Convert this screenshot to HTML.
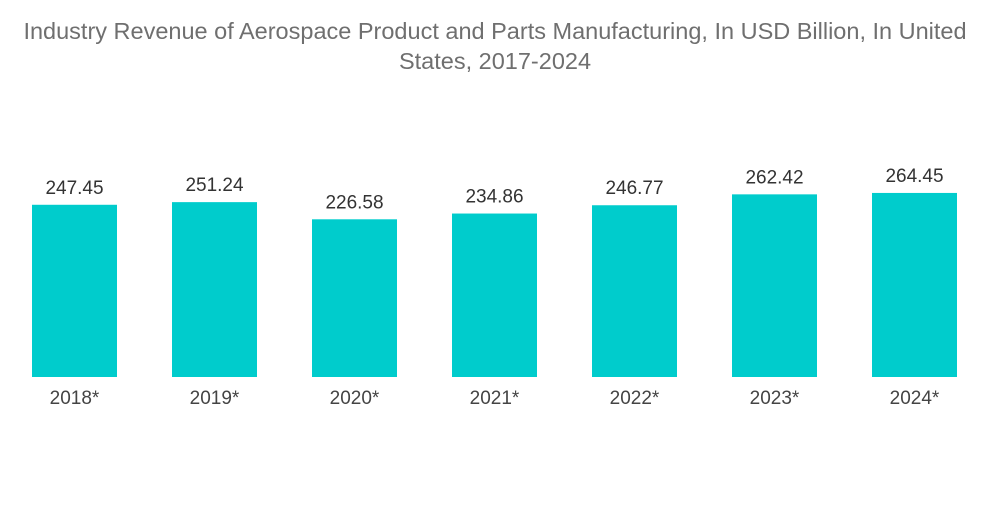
<!DOCTYPE html>
<html><head><meta charset="utf-8"><style>
html,body{margin:0;padding:0;background:#fff;}
body{width:1000px;height:504px;overflow:hidden;font-family:"Liberation Sans",sans-serif;}
</style></head><body>
<svg width="1000" height="504">
<text x="495" y="39" text-anchor="middle" font-size="23.5" fill="#6f6f6f">Industry Revenue of Aerospace Product and Parts Manufacturing, In USD Billion, In United</text>
<text x="495" y="69" text-anchor="middle" font-size="23.5" fill="#6f6f6f">States, 2017-2024</text>
<g id="bars"></g>
</svg>
<script>
const categories=["2018*","2019*","2020*","2021*","2022*","2023*","2024*"];
const values=[247.45,251.24,226.58,234.86,246.77,262.42,264.45];
const labels=["247.45","251.24","226.58","234.86","246.77","262.42","264.45"];
const base=377,k=0.696,x0=32,step=140,bw=85;
function xs(i){return x0+i*step;}
function ys(v){return base-v*k;}
const g=document.getElementById('bars');
const ns='http://www.w3.org/2000/svg';
values.forEach((v,i)=>{
 const r=document.createElementNS(ns,'rect');
 r.setAttribute('x',xs(i));r.setAttribute('y',ys(v));r.setAttribute('width',bw);r.setAttribute('height',base-ys(v));r.setAttribute('fill','#00cccc');
 
 
 g.appendChild(r);
 const t=document.createElementNS(ns,'text');
 t.setAttribute('x',xs(i)+bw/2);t.setAttribute('y',ys(v)-11);t.setAttribute('text-anchor','middle');t.setAttribute('font-size','19');t.setAttribute('fill','#333');
 t.textContent=labels[i];
 
 
 g.appendChild(t);
 const c=document.createElementNS(ns,'text');
 c.setAttribute('x',xs(i)+bw/2);c.setAttribute('y',404);c.setAttribute('text-anchor','middle');c.setAttribute('font-size','19');c.setAttribute('fill','#444');
 c.textContent=categories[i];
 
 
 g.appendChild(c);
});
</script>
</body></html>
